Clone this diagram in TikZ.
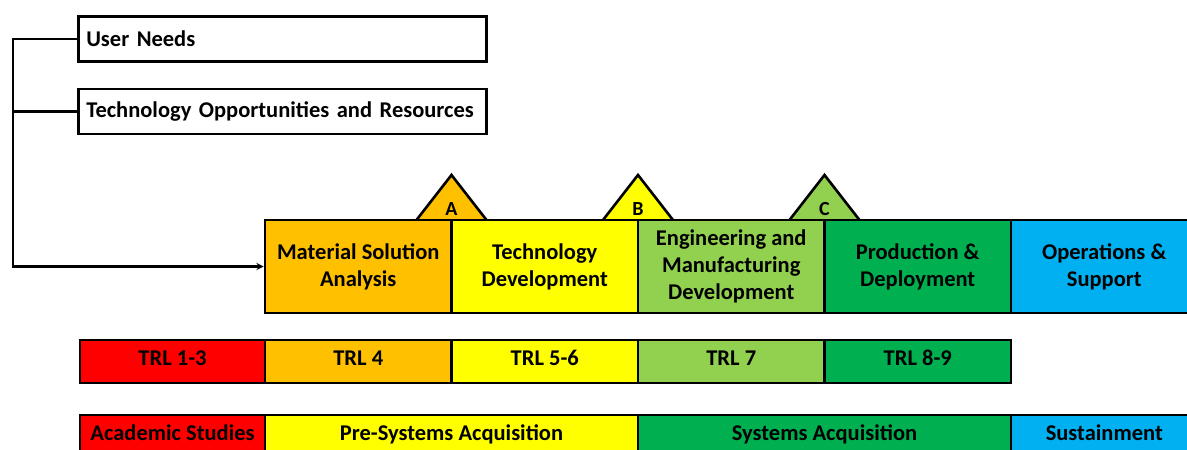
\documentclass[tikz,border=0pt]{standalone}
\usepackage{fontspec}
\setmainfont{Carlito}
\usetikzlibrary{positioning}

\definecolor{lvred}{HTML}{FF0000}
\definecolor{lvorange}{HTML}{FFC000}
\definecolor{lvyellow}{HTML}{FFFF00}
\definecolor{lvlime}{HTML}{92D050}
\definecolor{lvgreen}{HTML}{00B050}
\definecolor{lvblue}{HTML}{00B0F0}

\tikzset{
	every box/.style={draw=black, line width=2.6pt, inner sep=2pt,
		font=\fontsize{22.5}{27}\selectfont\bfseries, text=black},
	input box/.style={every box, fill=white, minimum width=408pt, minimum height=45pt,
		inner xsep=5pt, text width=392pt, align=left, anchor=west},
	phase box/.style={every box, minimum width=186.5pt, minimum height=93pt, align=center},
	trl box/.style={every box, minimum height=43pt, text height=11pt, text depth=4pt, align=center},
	milestone/.style={draw=black, line width=2.6pt, line join=miter},
}

\begin{document}
\begin{tikzpicture}[x=1pt, y=-1pt, >=stealth]
		\useasboundingbox (0,0) rectangle (1187,450);
		\clip (0,0) rectangle (1187,450);

		\node [input box] (needs) at (77,39) {User Needs};
		\node [input box] (opps) at (77,111.5) {Technology Opportunities and Resources};

		% milestones sit on the phase borders
		\foreach \m/\c [count=\i] in {A/lvorange, B/lvyellow, C/lvlime}{
			\filldraw [milestone, fill=\c] ({265+186.5*\i-35},220) -- ({265+186.5*\i},175) -- ({265+186.5*\i+35},220);
			\node [font=\fontsize{20}{20}\selectfont\bfseries] (ms-\m) at ({265+186.5*\i},209.5) {\m};
		}

		\foreach \l/\c [count=\i] in {{Material Solution\\Analysis}/lvorange, {Technology\\Development}/lvyellow,
			{Engineering and\\Manufacturing\\Development}/lvlime, {Production \&\\Deployment}/lvgreen,
			{Operations \&\\Support}/lvblue}
		\node [phase box, fill=\c] (phase-\i) at ({265+186.5*\i-93.25},266.5) {\l};

		\node [trl box, fill=lvred, minimum width=185pt] (trl-1) at (172.5,361.5) {TRL 1-3};
		\foreach \l/\c [count=\i from 2] in {TRL 4/lvorange, TRL 5-6/lvyellow, TRL 7/lvlime, TRL 8-9/lvgreen}
		\node [trl box, fill=\c, minimum width=186.5pt] (trl-\i) at ({265+186.5*\i-279.75},361.5) {\l};

		\node [trl box, fill=lvred, minimum width=185pt] (stage-1) at (172.5,436.5) {Academic Studies};
		\node [trl box, fill=lvyellow, minimum width=373pt] (stage-2) at (451.5,436.5) {Pre-Systems Acquisition};
		\node [trl box, fill=lvgreen, minimum width=373pt] (stage-3) at (824.5,436.5) {Systems Acquisition};
		\node [trl box, fill=lvblue, minimum width=186.5pt] (stage-4) at (1104.25,436.5) {Sustainment};

		\coordinate (spine) at (13,266.5);
		\draw [line width=2.2pt, ->] (needs.west) -| (spine) -- (phase-1.west);
		\draw [line width=2.2pt] (opps.west) -- (opps.west -| spine);

	\end{tikzpicture}
\end{document}
